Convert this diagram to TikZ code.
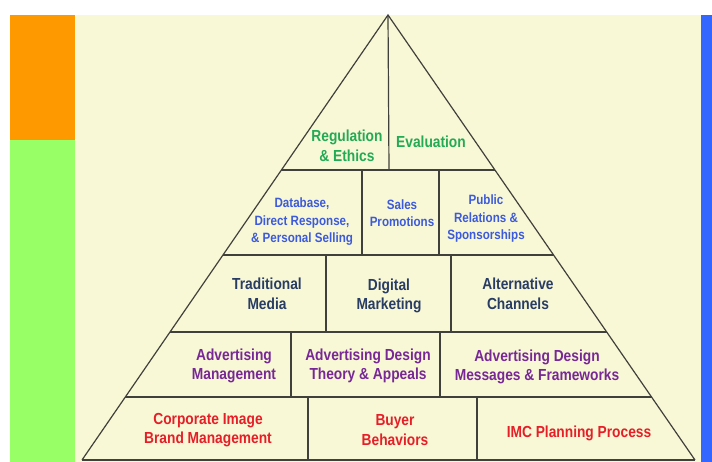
\documentclass[tikz,border=0pt]{standalone}
\usepackage{fontspec}
\setmainfont{Liberation Sans}[FakeStretch=0.86]
\usetikzlibrary{calc}

\definecolor{barorange}{RGB}{255,153,0}
\definecolor{bargreen}{RGB}{153,255,102}
\definecolor{barblue}{RGB}{51,102,255}
\definecolor{slidecream}{RGB}{248,248,214}
\definecolor{pyramidgray}{RGB}{64,64,60}
\definecolor{textgreen}{RGB}{34,170,85}
\definecolor{textblue}{RGB}{60,90,220}
\definecolor{textslate}{RGB}{40,60,100}
\definecolor{textpurple}{RGB}{120,40,150}
\definecolor{textred}{RGB}{230,30,40}

\tikzset{
  pyline/.style={draw=pyramidgray, line width=1.2pt},
  tier/.style={font=\bfseries\fontsize{16}{19.5}\selectfont, align=center, inner sep=0pt},
  tiersmall/.style={font=\bfseries\fontsize{13.5}{17.5}\selectfont, align=center, inner sep=0pt},
}

\begin{document}
\begin{tikzpicture}[x=1pt, y=-1pt]
  \useasboundingbox (0,0) rectangle (712,462);
  % side bars and slide background
  \fill[barorange] (10,15) rectangle (75,140);
  \fill[bargreen] (10,140) rectangle (75,462);
  \fill[slidecream] (75,15) rectangle (701,462);
  \fill[barblue] (701,15) rectangle (712,462);

  % pyramid outline and tiers
  \coordinate (apex) at (388,15);
  \coordinate (bl) at (82,460);
  \coordinate (br) at (695,460);
  \draw[pyline] (bl) -- (apex) -- (br);
  \foreach \yy [evaluate=\yy as \pos using (\yy-15)/445] in {170,255,332,397,460}
    \draw[pyline] ($(apex)!\pos!(bl)$) -- ($(apex)!\pos!(br)$);
  \draw[pyline] (apex) -- (389,170);
  \foreach \xx/\ya/\yb in {362/170/255, 439/170/255, 326/255/332, 451/255/332,
                           291/332/397, 440/332/397, 308/397/460, 477/397/460}
    \draw[pyline] (\xx,\ya) -- (\xx,\yb);

  % labels, top to bottom
  \node[tier, textgreen] (reg) at (347,146) {Regulation\\\& Ethics};
  \node[tier, textgreen] (eval) at (431,142) {Evaluation};

  \node[tiersmall, textblue] (db) at (302,222) {Database,\\Direct Response,\\\& Personal Selling};
  \node[tiersmall, textblue] (sales) at (402,213) {Sales\\Promotions};
  \node[tiersmall, textblue] (pr) at (486,219) {Public\\Relations \&\\Sponsorships};

  \node[tier, textslate] (trad) at (267,294) {Traditional\\Media};
  \node[tier, textslate] (digital) at (389,296) {Digital\\Marketing};
  \node[tier, textslate] (alt) at (518,294) {Alternative\\Channels};

  \node[tier, textpurple] (admgmt) at (234,366) {Advertising\\Management};
  \node[tier, textpurple] (adtheory) at (368,366) {Advertising Design\\Theory \& Appeals};
  \node[tier, textpurple] (admsg) at (537,367) {Advertising Design\\Messages \& Frameworks};

  \node[tier, textred] (corp) at (208,430) {Corporate Image\\Brand Management};
  \node[tier, textred] (buyer) at (395,430) {Buyer\\Behaviors};
  \node[tier, textred] (imc) at (579,433) {IMC Planning Process};
\end{tikzpicture}
\end{document}
